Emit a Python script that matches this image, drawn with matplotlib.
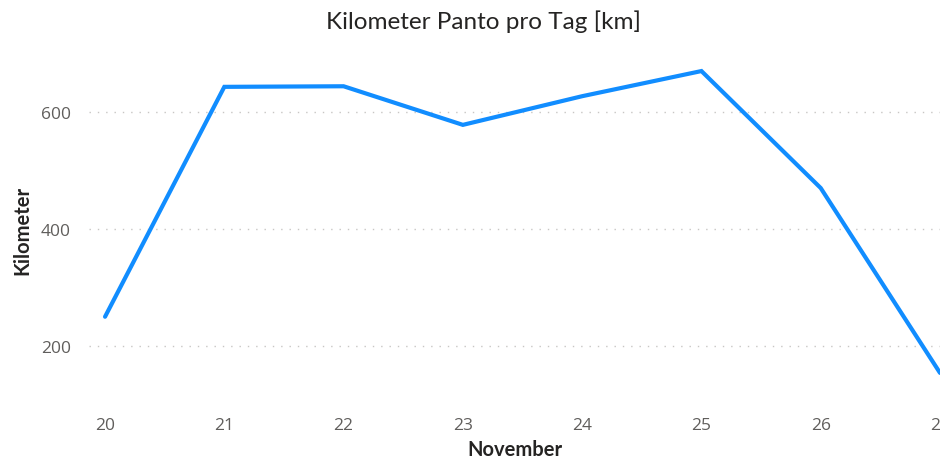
import matplotlib.pyplot as plt

days = [20, 21, 22, 23, 24, 25, 26, 27]
km = [250, 643, 644, 578, 627, 670, 470, 154]
y_ticks = [200, 400, 600]

plt.rcParams['font.family'] = ['Open Sans', 'DejaVu Sans']

fig = plt.figure(figsize=(9.4, 4.64), dpi=100)
ax = fig.add_axes([89 / 940, 1 - 400 / 464, 1 - 89 / 940, (400 - 60) / 464])

ax.plot(days, km, color='#118DFF', linewidth=3.0, solid_capstyle='round',
        solid_joinstyle='miter', clip_on=False, zorder=3)

ax.set_xlim(20 - 16 / 119, 27)
ax.set_ylim(200 - 53 / 0.585, 600 + 53 / 0.585)
ax.set_xticks(days)
ax.set_yticks(y_ticks)
ax.tick_params(length=0, labelsize=12.5, labelcolor='#605E5C')
ax.tick_params(axis='x', pad=13)
ax.tick_params(axis='y', pad=13)
ax.grid(axis='y', linestyle=(0, (1, 5)), color='#C8C6C4', linewidth=1)
for s in ax.spines.values():
    s.set_visible(False)

ax.set_xlabel('November', fontsize=14.5, color='#252423', family=['Lato', 'DejaVu Sans'],
              fontweight='bold', labelpad=4)
ax.set_ylabel('Kilometer', fontsize=14.5, color='#252423', family=['Lato', 'DejaVu Sans'],
              fontweight='bold', labelpad=6)
fig.text(484 / 940, 1 - 22 / 464, 'Kilometer Panto pro Tag [km]', ha='center', va='center',
         fontsize=17.5, color='#252423', family=['Lato', 'DejaVu Sans'])

fig.savefig('out.png', dpi=100)
